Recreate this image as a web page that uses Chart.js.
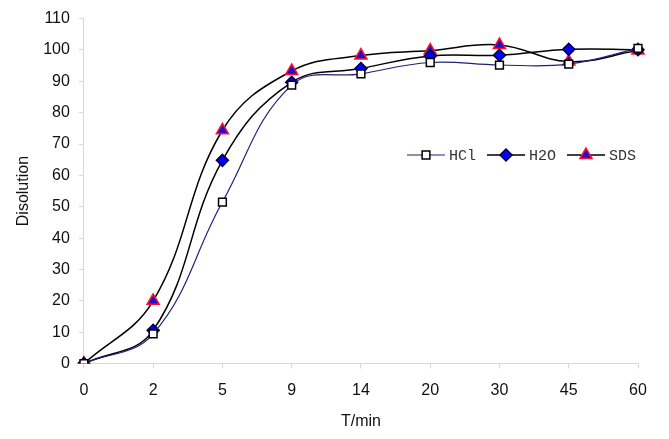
<!doctype html>
<html>
<head>
<meta charset="utf-8">
<title>Disolution</title>
<script src="https://cdn.jsdelivr.net/npm/chart.js@4.4.0/dist/chart.umd.min.js"></script>
<style>
  html, body { margin: 0; padding: 0; background: #fff; }
  #wrap { width: 669px; height: 439px; }
</style>
</head>
<body>
<div id="wrap"><canvas id="dissChart" width="669" height="439"></canvas></div>
<script>
// data
var times = ['0', '2', '5', '9', '14', '20', '30', '45', '60'];
var hcl = [0, 9.5, 51.5, 88.8, 92.4, 96, 95.2, 95.5, 100.5];
var h2o = [0, 10.6, 64.8, 89.7, 94.1, 98.1, 98.3, 100.2, 100.1];
var sds = [0, 20, 74.4, 93.3, 98.2, 99.8, 101.6, 96.3, 99.8];
var yTicks = [0, 10, 20, 30, 40, 50, 60, 70, 80, 90, 100, 110];

var series = [
  { label: 'HCl', data: hcl, line: '#20207a', width: 1.2, style: 'rect', fill: '#ffffff', edge: '#000000', r: 5.5 },
  { label: 'H2O', data: h2o, line: '#000000', width: 1.5, style: 'rectRot', fill: '#0000ff', edge: '#000033', r: 6 },
  { label: 'SDS', data: sds, line: '#000000', width: 1.5, style: 'triangle', fill: '#1f10c8', edge: '#ff1030', r: 7 }
];

// legend drawn like excel: line with marker in middle
var lineLegend = {
  id: 'lineLegend',
  afterDraw: function(chart) {
    var ctx = chart.ctx;
    var x = 407, y = 155;
    ctx.save();
    ctx.font = '15px "Liberation Mono", "DejaVu Sans Mono", monospace';
    ctx.textBaseline = 'middle';
    series.forEach(function(s) {
      ctx.strokeStyle = s.line;
      ctx.lineWidth = s.width;
      ctx.beginPath();
      ctx.moveTo(x, y);
      ctx.lineTo(x + 38, y);
      ctx.stroke();
      ctx.fillStyle = s.fill;
      ctx.strokeStyle = s.edge;
      ctx.lineWidth = 1.5;
      Chart.helpers.drawPoint(ctx, { pointStyle: s.style, radius: s.r, borderWidth: 1.5 }, x + 19, y);
      ctx.fillStyle = '#333333';
      ctx.fillText(s.label, x + 42, y + 1);
      x += 80;
    });
    ctx.restore();
  }
};

var datasets = series.map(function(s) {
  return {
    label: s.label,
    data: s.data,
    borderColor: s.line,
    borderWidth: s.width,
    tension: 0.4,
    pointStyle: s.style,
    pointRadius: s.r,
    pointBackgroundColor: s.fill,
    pointBorderColor: s.edge,
    pointBorderWidth: 1.5,
    fill: false
  };
});

var tickFont = { family: 'Liberation Sans', size: 16 };

var ctx = document.getElementById('dissChart').getContext('2d');
var myChart = new Chart(ctx, {
  type: 'line',
  data: { labels: times, datasets: datasets },
  plugins: [lineLegend],
  options: {
    responsive: false,
    animation: false,
    layout: { padding: { left: 10, right: 31, top: 16, bottom: 6 } },
    plugins: {
      legend: { display: false },
      tooltip: { enabled: false }
    },
    scales: {
      x: {
        offset: false,
        grid: { drawOnChartArea: false, drawTicks: true, tickLength: 5, color: '#d8d8d8' },
        border: { color: '#d8d8d8' },
        ticks: { color: '#111', font: tickFont, padding: 12, maxRotation: 0 },
        title: { display: true, text: 'T/min', color: '#111', font: tickFont, padding: { top: 0, bottom: 2 } }
      },
      y: {
        min: 0,
        max: 110,
        afterBuildTicks: function(axis) {
          axis.ticks = yTicks.map(function(v) { return { value: v }; });
        },
        grid: { drawOnChartArea: false, drawTicks: true, tickLength: 5, color: '#d8d8d8' },
        border: { color: '#d8d8d8' },
        ticks: { color: '#111', font: tickFont, padding: 9 },
        title: { display: true, text: 'Disolution', color: '#111', font: tickFont, padding: { top: 4, bottom: 1 } }
      }
    }
  }
});
</script>
</body>
</html>
